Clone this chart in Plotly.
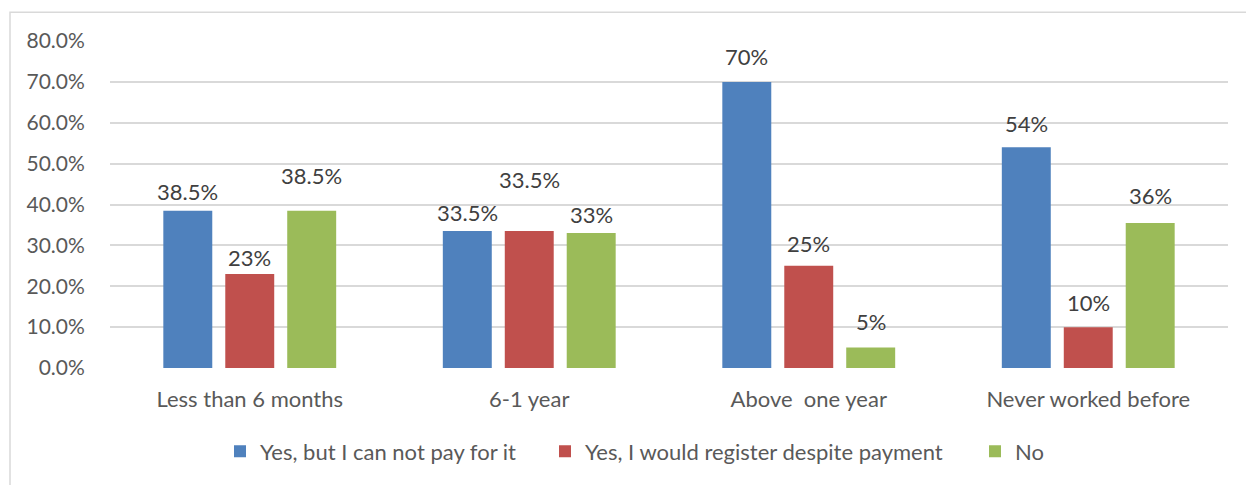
import plotly.graph_objects as go

# ---- data ----
categories = ["Less than 6 months", "6-1 year", "Above\u00a0 one year", "Never worked before"]
series_names = ["Yes, but I can not pay for it", "Yes, I would register despite payment", "No"]
yes_cannot_pay = [38.5, 33.5, 70, 54]
yes_register = [23, 33.5, 25, 10]
no_values = [38.5, 33, 5, 35.5]
yes_cannot_pay_labels = ["38.5%", "33.5%", "70%", "54%"]
yes_register_labels = ["23%", "33.5%", "25%", "10%"]
no_labels = ["38.5%", "33%", "5%", "36%"]
y_tick_values = [0, 10, 20, 30, 40, 50, 60, 70, 80]
y_tick_labels = ["0.0%", "10.0%", "20.0%", "30.0%", "40.0%", "50.0%", "60.0%", "70.0%", "80.0%"]

# ---- style ----
colors = ["#4f81bd", "#c0504d", "#9bbb59"]
label_shift = [[19, 19, 25, 24], [16, 52, 22, 25], [35, 19, 26, 27]]  # px above bar top
FONT = "Lato"
FS = 22
W, H = 1246, 485
ML, MR, MT, MB = 110, 18, 41, 115
pw, ph = W - ML - MR, H - MT - MB
cat_px = pw / len(categories)
bargap = 0.335
slot_px = cat_px * (1 - bargap) / 3

values = [yes_cannot_pay, yes_register, no_values]
labels = [yes_cannot_pay_labels, yes_register_labels, no_labels]
legend_ids = ["legend", "legend2", "legend3"]

fig = go.Figure()
for i, name in enumerate(series_names):
    fig.add_trace(go.Bar(
        x=categories, y=values[i], name=name,
        marker=dict(color=colors[i], line=dict(width=0)),
        legend=legend_ids[i],
        hoverinfo="skip",
    ))

annotations = []
for i in range(3):
    for j, c in enumerate(categories):
        annotations.append(dict(
            x=c, y=values[i][j], xref="x", yref="y",
            text=labels[i][j], showarrow=False,
            xshift=(i - 1) * slot_px, yshift=label_shift[i][j],
            yanchor="middle", xanchor="center",
            font=dict(family=FONT, size=FS, color="#404040"),
        ))


def px_x(p):
    return (p - ML) / pw


def px_y(p):
    return 1 - (p - MT) / ph


legend_common = dict(orientation="h", yanchor="middle", xanchor="left",
                     font=dict(family=FONT, size=FS, color="#595959"),
                     bgcolor="rgba(0,0,0,0)", itemwidth=30, tracegroupgap=0)

fig.update_layout(
    width=W, height=H,
    margin=dict(l=ML, r=MR, t=MT, b=MB, pad=0),
    paper_bgcolor="white", plot_bgcolor="white",
    barmode="group", bargap=bargap, bargroupgap=0.21,
    font=dict(family=FONT, size=FS, color="#595959"),
    xaxis=dict(showgrid=False, showline=False, zeroline=False,
               ticks="outside", ticklen=12, tickcolor="rgba(0,0,0,0)",
               tickfont=dict(family=FONT, size=FS, color="#595959")),
    yaxis=dict(range=[0, 80], tickvals=y_tick_values, ticktext=y_tick_labels,
               showgrid=True, gridcolor="#d9d9d9", gridwidth=1.5,
               zeroline=False, showline=False,
               ticks="outside", ticklen=20, tickcolor="rgba(0,0,0,0)",
               tickfont=dict(family=FONT, size=21, color="#595959")),
    annotations=annotations,
    showlegend=True,
    legend=dict(x=px_x(220), y=px_y(454), **legend_common),
    legend2=dict(x=px_x(545), y=px_y(454), **legend_common),
    legend3=dict(x=px_x(975), y=px_y(454), **legend_common),
    shapes=[dict(type="rect", xref="paper", yref="paper",
                 x0=px_x(10), x1=px_x(W + 20), y0=px_y(H + 20), y1=px_y(12),
                 line=dict(color="#d9d9d9", width=1.5), fillcolor="rgba(0,0,0,0)",
                 layer="below")],
)

fig.write_html("out.html", config={"displayModeBar": False},
               post_script="document.body.style.margin='0';document.body.style.overflow='hidden';")
